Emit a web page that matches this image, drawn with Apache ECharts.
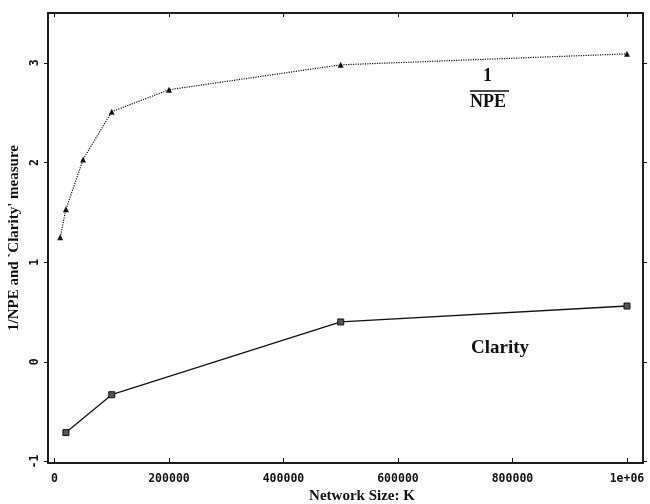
<!DOCTYPE html>
<html><head><meta charset="utf-8">
<script src="https://cdn.jsdelivr.net/npm/echarts@6/dist/echarts.min.js"></script>
<style>html,body{margin:0;padding:0;background:#fff}#c{width:650px;height:504px}</style>
</head><body><div id="c"></div>
<script>
var npeX = [10000, 20000, 50000, 100000, 200000, 500000, 1000000];
var npeY = [1.25, 1.53, 2.03, 2.51, 2.73, 2.98, 3.09];
var clarityX = [20000, 100000, 500000, 1000000];
var clarityY = [-0.71, -0.33, 0.40, 0.56];
var xTicks = [0, 200000, 400000, 600000, 800000, 1000000];
var xTickLabels = ['0', '200000', '400000', '600000', '800000', '1e+06'];
var yTicks = [-1, 0, 1, 2, 3];

function pairs(xs, ys){ return xs.map(function(x,i){ return [x, ys[i]]; }); }

var chart = echarts.init(document.getElementById('c'), null, {renderer:'canvas'});
var monoLabel = {fontFamily:'DejaVu Sans Mono', fontWeight:'bold', fontSize:11.5, color:'#111'};
chart.setOption({
  animation:false,
  backgroundColor:'#fff',
  grid:{left:48, right:7, top:13, bottom:41, containLabel:false, outerBoundsMode:'none',
    show:true, borderColor:'#111', borderWidth:1.5, backgroundColor:'transparent'},
  xAxis:[{
    type:'value', min:-11300, max:1028000,
    splitLine:{show:false},
    axisLine:{show:true, onZero:false, lineStyle:{color:'#111', width:1.5}},
    axisTick:{show:true, inside:true, length:5, lineStyle:{color:'#111'},
      customValues: xTicks},
    axisLabel:Object.assign({margin:10, customValues: xTicks, formatter:function(v){
      var i = xTicks.indexOf(v); return i>=0 ? xTickLabels[i] : '';
    }}, monoLabel),
    name:'Network Size: K', nameLocation:'middle', nameGap:26, nameMoveOverlap:false,
    nameTextStyle:{fontFamily:'Liberation Serif', fontWeight:'bold', fontSize:15, color:'#111', padding:[0,0,0,33]}
  },{
    type:'value', position:'top', min:-11300, max:1028000,
    splitLine:{show:false},
    axisLine:{show:true, onZero:false, lineStyle:{color:'#111', width:1.5}},
    axisTick:{show:true, inside:true, length:4, customValues: xTicks, lineStyle:{color:'#111'}},
    axisLabel:{show:false}
  }],
  yAxis:[{
    type:'value', min:-1.015, max:3.5,
    splitLine:{show:false},
    axisLine:{show:true, onZero:false, lineStyle:{color:'#111', width:1.5}},
    axisTick:{show:true, length:4, customValues: yTicks, lineStyle:{color:'#111'}},
    axisLabel:Object.assign({rotate:90, margin:7, customValues: yTicks, formatter:function(v){
      return yTicks.indexOf(v)>=0 ? String(v) : '';
    }}, monoLabel),
    name:"1/NPE and `Clarity' measure", nameLocation:'middle', nameGap:26, nameRotate:90, nameMoveOverlap:false,
    nameTextStyle:{fontFamily:'Liberation Serif', fontWeight:'bold', fontSize:15, color:'#111'}
  },{
    type:'value', position:'right', min:-1.015, max:3.5,
    splitLine:{show:false},
    axisLine:{show:true, onZero:false, lineStyle:{color:'#111', width:1.5}},
    axisTick:{show:true, length:4, customValues: yTicks, lineStyle:{color:'#111'}},
    axisLabel:{show:false}
  }],
  series:[{
    name:'1/NPE', type:'line', data:pairs(npeX, npeY),
    symbol:'triangle', symbolSize:6,
    itemStyle:{color:'#111'},
    lineStyle:{color:'#111', width:1.2, type:'dotted'}
  },{
    name:'Clarity', type:'line', data:pairs(clarityX, clarityY),
    symbol:'rect', symbolSize:6,
    itemStyle:{color:'#555', borderColor:'#111', borderWidth:1},
    lineStyle:{color:'#111', width:1.3}
  }],
  graphic:[
    {type:'text', left:483, top:67, style:{text:'1', font:'bold 18px "Liberation Serif"', fill:'#111'}},
    {type:'line', shape:{x1:470, y1:91, x2:509, y2:91}, style:{stroke:'#111', lineWidth:1.5}},
    {type:'text', left:470, top:93, style:{text:'NPE', font:'bold 18px "Liberation Serif"', fill:'#111'}},
    {type:'text', left:471, top:339, style:{text:'Clarity', font:'bold 19px "Liberation Serif"', fill:'#111'}}
  ]
});
</script></body></html>
